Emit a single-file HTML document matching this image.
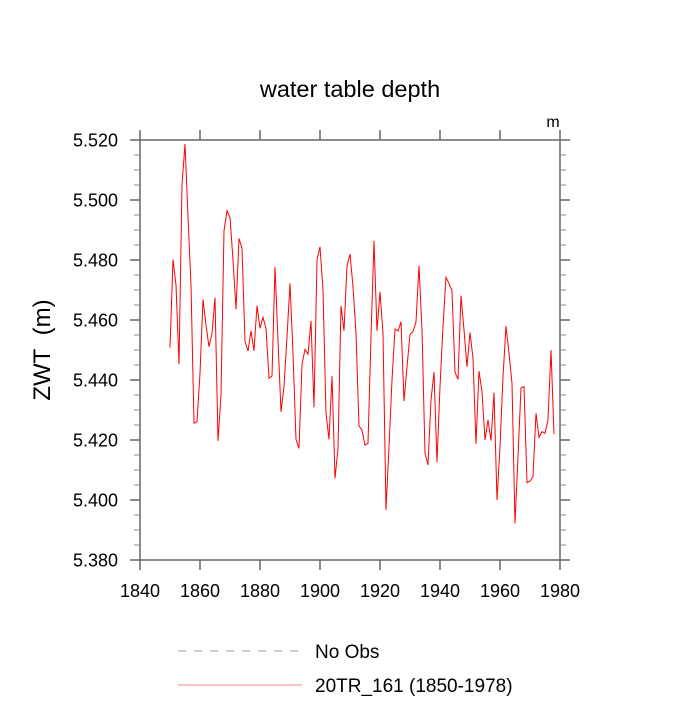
<!DOCTYPE html>
<html><head><meta charset="utf-8"><style>
html,body{margin:0;padding:0;background:#fff}
svg text{font-family:"Liberation Sans",sans-serif;fill:#000}
</style></head><body>
<svg id="chart" width="700" height="700" viewBox="0 0 700 700" xmlns="http://www.w3.org/2000/svg">
<text x="350" y="97" font-size="23.5" text-anchor="middle">water table depth</text>
<text x="553" y="127" font-size="16" text-anchor="middle">m</text>
<text transform="translate(50,350) rotate(-90)" font-size="24" text-anchor="middle">ZWT&#160;&#160;(m)</text>
<g id="axes"></g>
<g id="series"></g>
<g>
<line x1="178" y1="651" x2="298" y2="651" stroke="#9999dd" stroke-width="1" stroke-dasharray="8,8"/>
<text x="315" y="658" font-size="19">No Obs</text>
<line x1="178" y1="685" x2="302" y2="685" stroke="#ff8888" stroke-width="1"/>
<text x="315" y="692" font-size="19">20TR_161 (1850-1978)</text>
</g>
</svg>
<script>
const startYear = 1850;
const zwtValues = [5.4508,5.4802,5.4717,5.4452,5.505,5.5187,5.4944,5.4717,5.4256,5.4261,
5.4422,5.4669,5.4583,5.4511,5.4556,5.4674,5.4197,5.4350,5.4897,5.4964,
5.4942,5.4800,5.4636,5.4872,5.4839,5.4528,5.4497,5.4564,5.4497,5.4648,
5.4572,5.4609,5.4572,5.4406,5.4413,5.4776,5.4533,5.4294,5.4378,5.4544,
5.4722,5.4489,5.4202,5.4172,5.4452,5.4502,5.4486,5.4597,5.4309,5.4800,
5.4844,5.4700,5.4289,5.4202,5.4413,5.4072,5.4172,5.4647,5.4564,5.4780,
5.4820,5.4711,5.4556,5.4247,5.4233,5.4183,5.4189,5.4544,5.4864,5.4564,
5.4694,5.4556,5.3967,5.4178,5.4400,5.4570,5.4563,5.4594,5.4330,5.4444,
5.4552,5.4561,5.4594,5.4781,5.4567,5.4156,5.4117,5.4333,5.4426,5.4126,
5.4378,5.4578,5.4742,5.4722,5.4697,5.4426,5.4402,5.4681,5.4567,5.4444,
5.4558,5.4472,5.4187,5.4430,5.4361,5.4200,5.4267,5.4198,5.4358,5.4000,
5.4178,5.4411,5.4580,5.4489,5.4389,5.3922,5.4144,5.4374,5.4378,5.4058,
5.4063,5.4078,5.4289,5.4209,5.4228,5.4222,5.4267,5.4500,5.4220];
const xTickLabels = ["1840","1860","1880","1900","1920","1940","1960","1980"];
const yTickLabels = ["5.380","5.400","5.420","5.440","5.460","5.480","5.500","5.520"];

const L=140,R=560,T=140,B=560, x0=1840,x1=1980, y0=5.38,y1=5.52;
const xs=v=>L+(v-x0)/(x1-x0)*(R-L);
const ys=v=>B-(v-y0)/(y1-y0)*(B-T);
const NS="http://www.w3.org/2000/svg";
const axes=document.getElementById('axes');
function mk(tag,attrs,parent){const e=document.createElementNS(NS,tag);for(const k in attrs)e.setAttribute(k,attrs[k]);parent.appendChild(e);return e;}
const frame=mk('rect',{x:L,y:T,width:R-L,height:B-T,fill:'none',stroke:'#666','stroke-width':1.5},axes);


xTickLabels.forEach(s=>{const v=+s,x=xs(v);
 const t1=mk('line',{x1:x,y1:B,x2:x,y2:B+10,stroke:'#666','stroke-width':1.5},axes);
 
 
 const t2=mk('line',{x1:x,y1:T,x2:x,y2:T-10,stroke:'#666','stroke-width':1.5},axes);
 
 
 const tx=mk('text',{x:x,y:B+37,'font-size':18,'text-anchor':'middle'},axes);tx.textContent=s;
 
 
});
yTickLabels.forEach((s,i)=>{const v=+s,y=ys(v);
 [[L,L-10],[R,R+10]].forEach(p=>{const t=mk('line',{x1:p[0],y1:y,x2:p[1],y2:y,stroke:'#666','stroke-width':1.5},axes);
  
  });
 const tx=mk('text',{x:L-22,y:y+6.5,'font-size':18,'text-anchor':'end'},axes);tx.textContent=s;
 
 
 if(i<yTickLabels.length-1){for(let k=1;k<4;k++){const ym=ys(v+k*0.005);
  [[L,L-6],[R,R+6]].forEach(p=>{const t=mk('line',{x1:p[0],y1:ym,x2:p[1],y2:ym,stroke:'#888','stroke-width':1},axes);
   
   });}}
});
const pts=zwtValues.map((v,i)=>xs(startYear+i).toFixed(1)+','+ys(v).toFixed(1)).join(' ');
const line=mk('polyline',{points:pts,fill:'none',stroke:'#ff0000','stroke-width':1},document.getElementById('series'));


</script>
</body></html>
